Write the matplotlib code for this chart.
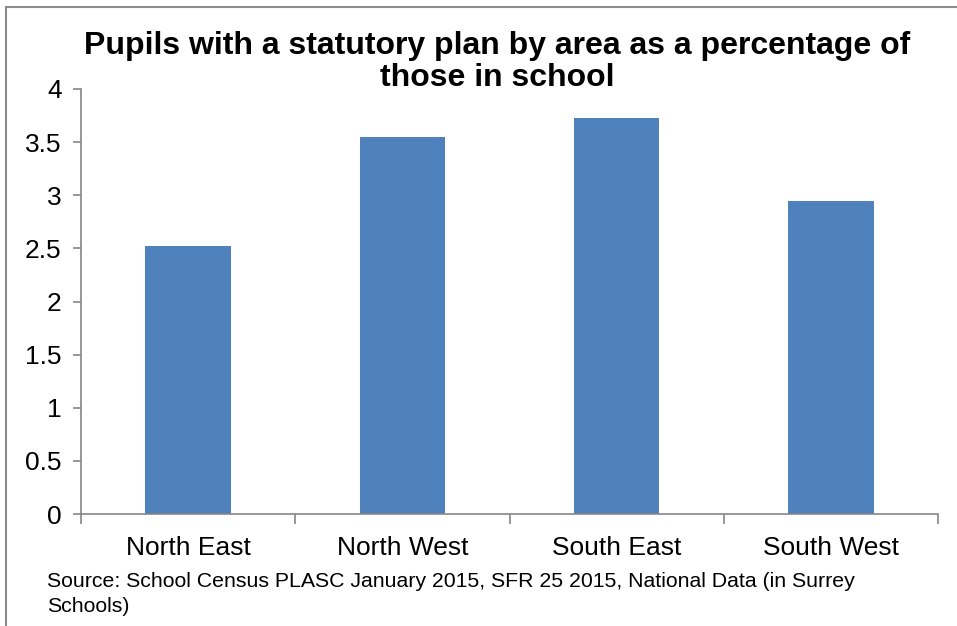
import matplotlib
matplotlib.use("Agg")
import matplotlib.pyplot as plt
from matplotlib.lines import Line2D

categories = ["North East", "North West", "South East", "South West"]
values = [2.52, 3.55, 3.73, 2.95]
yticks = [0, 0.5, 1, 1.5, 2, 2.5, 3, 3.5, 4]
ytick_labels = ["0", "0.5", "1", "1.5", "2", "2.5", "3", "3.5", "4"]
title = "Pupils with a statutory plan by area as a percentage of\nthose in school"
source = "Source: School Census PLASC January 2015, SFR 25 2015, National Data (in Surrey\nSchools)"

plt.rcParams['font.family'] = ['Liberation Sans', 'DejaVu Sans']

W, H = 957, 626
fig = plt.figure(figsize=(W / 100, H / 100), dpi=100)
ax = fig.add_axes([81 / W, 1 - 514 / H, (938 - 81) / W, (514 - 89) / H])

x = list(range(len(categories)))
ax.bar(x, values, width=0.40, color="#4F81BD")
ax.set_xlim(-0.5, len(categories) - 0.5)
ax.set_ylim(0, 4)
ax.set_yticks(yticks)
ax.set_yticklabels(ytick_labels, fontsize=19)
ax.set_xticks(x)
ax.set_xticklabels(categories, fontsize=19)
ax.tick_params(axis='x', length=0, pad=16)
ax.set_xticks([i - 0.5 for i in range(len(categories) + 1)], minor=True)
ax.tick_params(axis='x', which='minor', length=7, color="#868686", width=1.2)
ax.tick_params(axis='y', length=6, color="#868686", width=1.2, pad=8)

for s in ['top', 'right']:
    ax.spines[s].set_visible(False)
for s in ['left', 'bottom']:
    ax.spines[s].set_color("#868686")
    ax.spines[s].set_linewidth(1.2)

fig.text(497 / W, 1 - 62 / H, title, ha='center', va='center', fontsize=23,
         fontweight='bold', linespacing=1.05)
fig.text(47 / W, 1 - 594 / H, source, ha='left', va='center', fontsize=15.3,
         linespacing=1.38)

# outer frame lines (top and left)
fig.add_artist(Line2D([6 / W, 1], [1 - 7 / H, 1 - 7 / H], transform=fig.transFigure,
                      color="#8c8c8c", linewidth=1.5))
fig.add_artist(Line2D([6 / W, 6 / W], [0, 1 - 7 / H], transform=fig.transFigure,
                      color="#8c8c8c", linewidth=1.5))

fig.savefig("out.png", dpi=100)
